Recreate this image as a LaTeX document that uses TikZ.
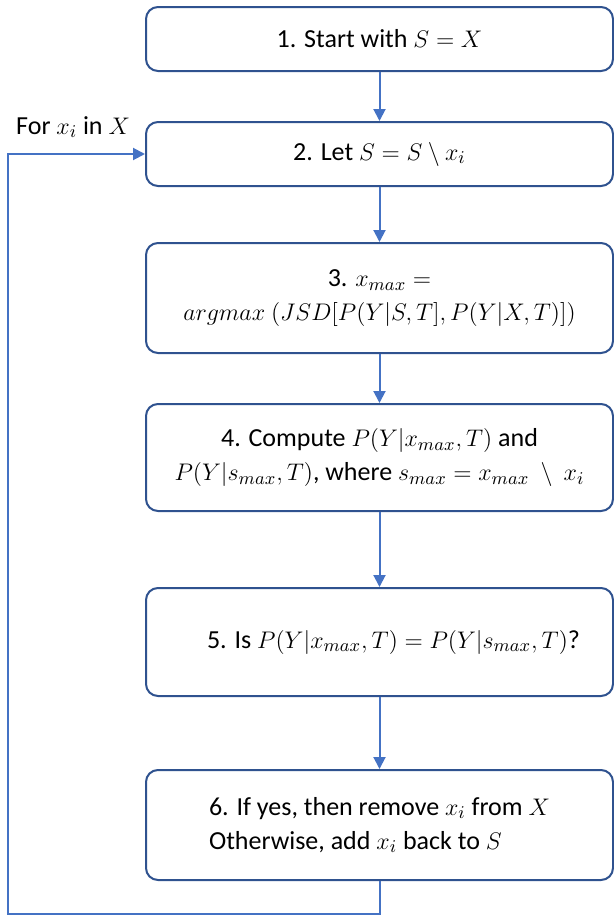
\documentclass[tikz,border=0pt]{standalone}
\usepackage{amsmath,amssymb}
\usepackage{fontspec}
\setmainfont{Carlito}
\usepackage{xcolor}
\usepackage{tikz}
\usetikzlibrary{arrows.meta,calc}
\newcommand{\xmax}{x_{max}}
\newcommand{\smax}{s_{max}}
\definecolor{boxcolor}{RGB}{47,82,143}
\definecolor{linecolor}{RGB}{68,114,196}
\tikzset{
  stepbox/.style={draw=boxcolor,line width=1pt,rounded corners=6pt,fill=white,
    minimum width=233.5pt,inner sep=0pt,align=center,
    font=\fontsize{13}{17}\selectfont},
  flow/.style={->,draw=linecolor,line width=1pt}
}

\begin{document}
\begin{tikzpicture}[x=0.5pt,y=-0.5pt,>={Triangle[length=6pt,width=6pt]}]
  % page frame in pixel units
  \useasboundingbox (0,0) rectangle (614,916);
  % the six steps
  \node[stepbox,minimum height=32pt] (s1) at (379.5,39) {1. Start with $S = X$};
  \node[stepbox,minimum height=32pt] (s2) at (379.5,154) {2. Let $S = S \setminus x_i$};
  \node[stepbox,minimum height=55pt] (s3) at (379.5,298)
    {3. $\xmax =$\\$argmax\ (JSD[P(Y|S,T],P(Y|X,T)])$};
  \node[stepbox,minimum height=53.5pt] (s4) at (379.5,457.5)
    {4. Compute $P(Y|\xmax,T)$ and\\$P(Y|\smax,T)$, where $\smax = \xmax\ \setminus\ x_i$};
  \node[stepbox,minimum height=54pt] (s5) at (379.5,642)
    {\hspace*{14pt}5. Is $P(Y|\xmax,T) = P(Y|\smax,T)$?};
  \node[stepbox,minimum height=55pt,align=left] (s6) at (379.5,825)
    {6. If yes, then remove $x_i$ from $X$\\Otherwise, add $x_i$ back to $S$};
  \draw[flow] (s1) -- (s2);
  \draw[flow] (s2) -- (s3);
  \draw[flow] (s3) -- (s4);
  \draw[flow] (s4) -- (s5);
  \draw[flow] (s5) -- (s6);
  % loop back over x_i
  \coordinate (back) at (8,914);
  \draw[flow] (s6.south) |- (back) |- (s2.west);
  \node[anchor=base east,font=\fontsize{13}{17}\selectfont] (loop) at (137,134) {For $x_i$ in $X$};
\end{tikzpicture}
\end{document}
